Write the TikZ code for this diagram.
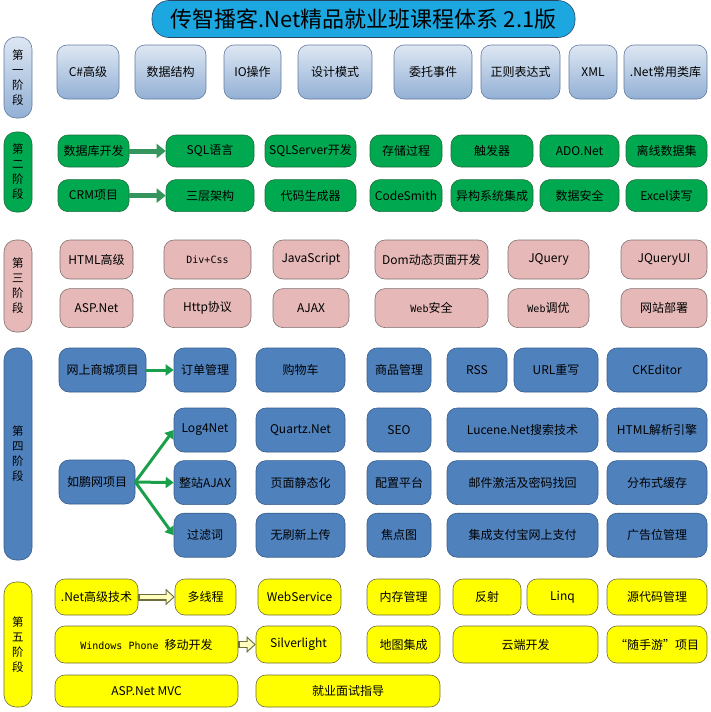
\documentclass[tikz,border=0pt]{standalone}
\usepackage{fontspec}
\setmainfont{Noto Sans CJK SC}
\newfontfamily\monofont{DejaVu Sans Mono}
\usetikzlibrary{arrows.meta,positioning}

\definecolor{titlefill}{RGB}{28,167,224}
\definecolor{titleedge}{RGB}{40,70,100}
\definecolor{onetop}{RGB}{222,231,243}
\definecolor{onebot}{RGB}{146,176,213}
\definecolor{oneedge}{RGB}{98,122,158}
\definecolor{twofill}{RGB}{0,168,80}
\definecolor{twoedge}{RGB}{30,110,60}
\definecolor{twoarrow}{RGB}{52,150,92}
\definecolor{threefill}{RGB}{230,185,184}
\definecolor{threeedge}{RGB}{125,112,112}
\definecolor{fourfill}{RGB}{79,129,189}
\definecolor{fouredge}{RGB}{56,93,138}
\definecolor{fourarrow}{RGB}{26,160,75}
\definecolor{fivefill}{RGB}{255,255,0}
\definecolor{fiveedge}{RGB}{110,110,60}
\definecolor{fivelight}{RGB}{255,255,190}

\begin{document}
\begin{tikzpicture}[
    x=1pt,y=-1pt,
    item/.style={rounded corners=10pt,inner sep=1pt,line width=0.6pt,
      align=center,font=\fontsize{12}{14}\selectfont},
    wd/.style={minimum width=#1pt},
    stage/.style={rounded corners=12pt,inner sep=0pt,line width=0.6pt,
      minimum width=28pt,align=center,font=\fontsize{11.5}{15}\selectfont},
    one/.style={draw=oneedge,top color=onetop,bottom color=onebot},
    two/.style={draw=twoedge,fill=twofill},
    three/.style={draw=threeedge,fill=threefill},
    four/.style={draw=fouredge,fill=fourfill},
    five/.style={draw=fiveedge,fill=fivefill},
    greenarrow/.style={draw=twoarrow,line width=5pt,-{Triangle[length=9pt,width=14pt]}},
    bluearrow/.style={draw=fourarrow,line width=3pt,-{Triangle[length=8pt,width=11pt]}},
    hollowarrow/.style={draw=fiveedge,line width=7pt,-{Triangle[length=9pt,width=16pt]},
      postaction={draw=fivelight,line width=4.6pt,shorten >=1.6pt,shorten <=1.2pt,
        -{Triangle[length=6.5pt,width=11.5pt]}}}
  ]
    \useasboundingbox (0,0) rectangle (711,712);

    % title
    \node[draw=titleedge,fill=titlefill,rounded corners=17pt,line width=0.6pt,
      minimum width=423pt,minimum height=37pt,font=\fontsize{22}{24}\selectfont]
      (title) at (363.5,19) {传智播客.Net精品就业班课程体系 2.1版};

    % stage labels
    \node[stage,one,minimum height=81pt] (st1) at (18,77.5) {第\\一\\阶\\段};
    \node[stage,two,minimum height=80pt] (st2) at (18,172) {第\\二\\阶\\段};
    \node[stage,three,minimum height=92pt] (st3) at (18,286) {第\\三\\阶\\段};
    \node[stage,four,minimum height=212pt] (st4) at (18,454) {第\\四\\阶\\段};
    \node[stage,five,minimum height=125pt] (st5) at (18,644.5) {第\\五\\阶\\段};

    % stage one
    \begin{scope}[every node/.append style={item,one,minimum height=54pt}]
      \node[wd=62] (csharp) at (88,72) {C\#高级};
      \node[wd=71] (datastruct) at (170.5,72) {数据结构};
      \node[wd=57] (io) at (252.5,72) {IO操作};
      \node[wd=74] (pattern) at (335,72) {设计模式};
      \node[wd=78] (delegate) at (433,72) {委托事件};
      \node[wd=79] (regex) at (520.5,72) {正则表达式};
      \node[wd=48] (xml) at (593,72) {XML};
      \node[wd=83] (netlib) at (665.5,72) {.Net常用类库};
    \end{scope}

    % stage two
    \begin{scope}[every node/.append style={item,two,minimum height=32pt}]
      \node[wd=71] (dbdev) at (93.5,151) {数据库开发};
      \node[wd=88] (sql) at (210,151) {SQL语言};
      \node[wd=91] (sqlserver) at (310.5,151) {SQLServer开发};
      \node[wd=72] (proc) at (406,151) {存储过程};
      \node[wd=82] (trigger) at (492,151) {触发器};
      \node[wd=79] (adonet) at (579.5,151) {ADO.Net};
      \node[wd=81] (dataset) at (666.5,151) {离线数据集};
      \node[wd=71,below=12pt of dbdev] (crm) {CRM项目};
      \node[wd=88,below=12pt of sql] (layers) {三层架构};
      \node[wd=91,below=12pt of sqlserver] (codegen) {代码生成器};
      \node[wd=72,below=12pt of proc] (codesmith) {CodeSmith};
      \node[wd=82,below=12pt of trigger] (hetero) {异构系统集成};
      \node[wd=79,below=12pt of adonet] (datasafe) {数据安全};
      \node[wd=81,below=12pt of dataset] (excel) {Excel读写};
    \end{scope}
    \draw[greenarrow] (dbdev) -- (sql);
    \draw[greenarrow] (crm) -- (layers);

    % stage three
    \begin{scope}[every node/.append style={item,three,minimum height=39pt}]
      \node[wd=73] (html) at (96.5,259.5) {HTML高级};
      \node[wd=87] (divcss) at (207.5,259.5) {\monofont\fontsize{10}{12}\selectfont Div+Css};
      \node[wd=76] (js) at (311,259.5) {JavaScript};
      \node[wd=113] (dom) at (431.5,259.5) {Dom动态页面开发};
      \node[wd=81] (jquery) at (548.5,259.5) {JQuery};
      \node[wd=86] (jqueryui) at (664,259.5) {JQueryUI};
      \node[wd=73,below=9pt of html] (aspnet) {ASP.Net};
      \node[wd=87,below=9pt of divcss] (http) {Http协议};
      \node[wd=76,below=9pt of js] (ajax) {AJAX};
      \node[wd=113,below=9pt of dom] (websafe) {{\monofont\fontsize{10}{12}\selectfont Web}安全};
      \node[wd=81,below=9pt of jquery] (webtune) {{\monofont\fontsize{10}{12}\selectfont Web}调优};
      \node[wd=86,below=9pt of jqueryui] (deploy) {网站部署};
    \end{scope}

    % stage four
    \begin{scope}[every node/.append style={item,four,minimum height=44pt}]
      \node[wd=87] (mall) at (102.5,370) {网上商城项目};
      \node[wd=62] (order) at (205,370) {订单管理};
      \node[wd=89] (cart) at (300.5,370) {购物车};
      \node[wd=64] (goods) at (399,370) {商品管理};
      \node[wd=60] (rss) at (477,370) {RSS};
      \node[wd=84] (urlrw) at (556,370) {URL重写};
      \node[wd=100] (ckeditor) at (657,370) {CKEditor};
      \node[wd=62] (log4net) at (205,430) {Log4Net};
      \node[wd=89] (quartz) at (300.5,430) {Quartz.Net};
      \node[wd=64] (seo) at (399,430) {SEO};
      \node[wd=151] (lucene) at (522.5,430) {Lucene.Net搜索技术};
      \node[wd=100] (htmlparse) at (657,430) {HTML解析引擎};
      \node[wd=62,below=8pt of log4net] (siteajax) {整站AJAX};
      \node[wd=89,below=8pt of quartz] (static) {页面静态化};
      \node[wd=64,below=8pt of seo] (config) {配置平台};
      \node[wd=151,below=8pt of lucene] (mail) {邮件激活及密码找回};
      \node[wd=100,below=8pt of htmlparse] (cache) {分布式缓存};
      \node[wd=62,below=8pt of siteajax] (filter) {过滤词};
      \node[wd=89,below=8pt of static] (upload) {无刷新上传};
      \node[wd=64,below=8pt of config] (focus) {焦点图};
      \node[wd=151,below=8pt of mail] (alipay) {集成支付宝网上支付};
      \node[wd=100,below=8pt of cache] (ads) {广告位管理};
      \node[wd=76] (rupeng) at (97,482) {如鹏网项目};
    \end{scope}
    \draw[bluearrow] (mall) -- (order);
    \draw[bluearrow] (rupeng.east) -- (log4net.west);
    \draw[bluearrow] (rupeng.east) -- (siteajax.west);
    \draw[bluearrow] (rupeng.east) -- (filter.west);

    % stage five
    \begin{scope}[every node/.append style={item,five}]
      \node[wd=83,minimum height=36pt] (netadv) at (96.5,597) {.Net高级技术};
      \node[wd=61,minimum height=36pt] (thread) at (205.5,597) {多线程};
      \node[wd=83,minimum height=36pt] (websvc) at (299.5,597) {WebService};
      \node[wd=73,minimum height=36pt] (memory) at (403.5,597) {内存管理};
      \node[wd=68,minimum height=36pt] (reflect) at (487,597) {反射};
      \node[wd=71,minimum height=36pt] (linq) at (562.5,597) {Linq};
      \node[wd=100,minimum height=36pt] (srcctl) at (657,597) {源代码管理};
      \node[wd=183,minimum height=37pt] (wphone) at (146.5,644.5)
        {{\monofont\fontsize{10}{12}\selectfont Windows Phone }移动开发};
      \node[wd=85,minimum height=37pt] (silver) at (298.5,644.5) {Silverlight};
      \node[wd=73,minimum height=37pt] (mapint) at (403.5,644.5) {地图集成};
      \node[wd=145,minimum height=37pt] (cloud) at (525.5,644.5) {云端开发};
      \node[wd=100,minimum height=37pt] (suishou) at (657,644.5) {“随手游”项目};
      \node[wd=183,minimum height=32pt] (mvc) at (146.5,691) {ASP.Net MVC};
      \node[wd=184,minimum height=32pt] (jobguide) at (348,691) {就业面试指导};
    \end{scope}
    \draw[hollowarrow] (netadv) -- (thread);
    \draw[hollowarrow] (wphone) -- (silver);
  \end{tikzpicture}
\end{document}
